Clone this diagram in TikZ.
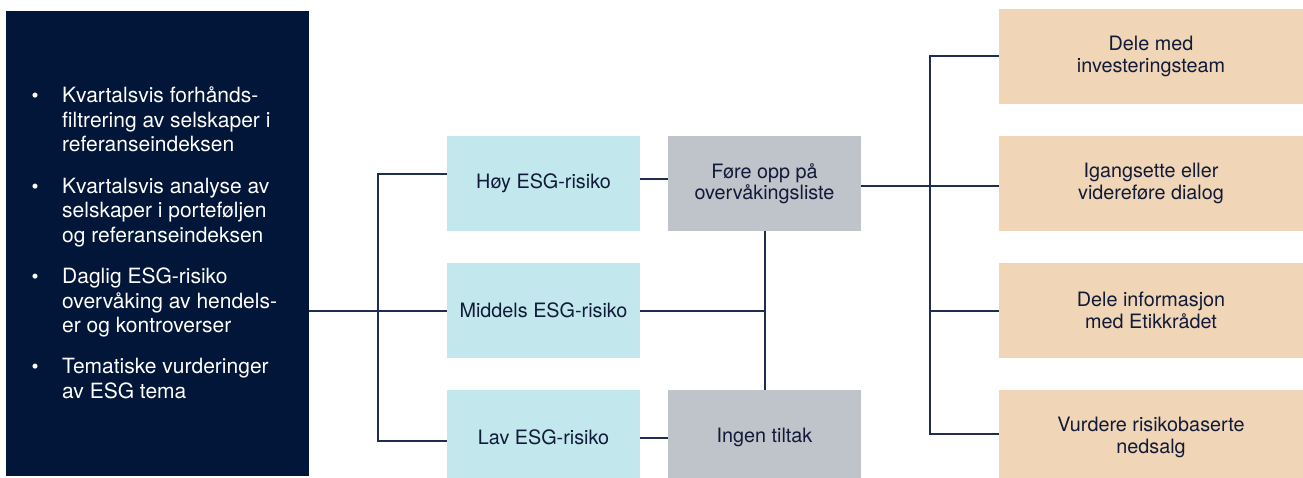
\documentclass[tikz,border=0pt]{standalone}
\usepackage{fontspec}
\setmainfont{TeX Gyre Heros}
\usetikzlibrary{calc}
\definecolor{navy}{HTML}{011638}
\definecolor{riskc}{HTML}{C2E8EE}
\definecolor{greyc}{HTML}{BFC3CA}
\definecolor{sandc}{HTML}{F0D6B6}
\definecolor{linec}{HTML}{1E2D50}
\definecolor{ink}{HTML}{111A38}
\begin{document}
\begin{tikzpicture}[x=1pt,y=-1pt,
  box/.style={rectangle, inner sep=0pt, minimum width=193pt, minimum height=95pt,
    align=center, text=ink, font=\fontsize{19.8}{21.5}\selectfont},
  riskbox/.style={box, fill=riskc},
  actbox/.style={box, fill=greyc},
  outbox/.style={box, fill=sandc, minimum width=304pt},
  conn/.style={draw=linec, line width=2pt}]
\useasboundingbox (0,0) rectangle (1303,478);
\clip (0,0) rectangle (1303,478);
% left panel
\node[fill=navy, minimum width=303pt, minimum height=465pt, inner sep=0pt] (panel) at (157.5,243.5) {};
\node[anchor=base west, inner sep=0pt, text=white] (list) at (62,103) {\begin{minipage}[t]{260pt}\fontsize{21}{24.5}\selectfont\raggedright
\noindent\llap{\makebox[54pt][c]{\fontsize{20}{20}\selectfont •}}Kvartalsvis forhånds-\\filtrering av selskaper i\\referanseindeksen\par\vspace{16.8pt}
\noindent\llap{\makebox[54pt][c]{\fontsize{20}{20}\selectfont •}}Kvartalsvis analyse av\\selskaper i porteføljen\\og referanseindeksen\par\vspace{16.8pt}
\noindent\llap{\makebox[54pt][c]{\fontsize{20}{20}\selectfont •}}Daglig ESG-risiko\\overvåking av hendels-\\er og kontroverser\par\vspace{16.8pt}
\noindent\llap{\makebox[54pt][c]{\fontsize{20}{20}\selectfont •}}Tematiske vurderinger\\av ESG tema\par
\end{minipage}};
% risk boxes
\node[riskbox] (hoy) at (543.5,183.5) {Høy ESG-risiko};
\node[riskbox] (midd) at (543.5,310.5) {Middels ESG-risiko};
\node[riskbox] (lav) at (543.5,437.5) {Lav ESG-risiko};
% action boxes
\node[actbox] (fore) at (764.5,183.5) {Føre opp på\\overvåkingsliste};
\node[actbox] (ingen) at (764.5,437.5) {Ingen tiltak};
% outcome boxes
\node[outbox] (o1) at (1151,56.5) {Dele med\\investeringsteam};
\node[outbox] (o2) at (1151,183.5) {Igangsette eller\\videreføre dialog};
\node[outbox] (o3) at (1151,310.5) {Dele informasjon\\med Etikkrådet};
\node[outbox] (o4) at (1151,437.5) {Vurdere risikobaserte\\nedsalg};
% junctions
\coordinate (lj) at (378,310.5);
\coordinate (rj) at (930,186);
% left tree
\draw[conn] (panel.east |- midd.west) -- (midd.west);
\draw[conn] ([yshift=9.5pt]hoy.west) -| (lj) |- ([yshift=-3.5pt]lav.west);
% middle
\draw[conn] ([yshift=4.5pt]hoy.east) -- ([yshift=4.5pt]fore.west);
\draw[conn] (lav.east) -- (ingen.west);
\draw[conn] (fore.south) -- (ingen.north);
\draw[conn] (midd.east) -- (fore.south |- midd.east);
% right tree
\draw[conn] ([yshift=-2.5pt]fore.east) -- ([yshift=-2.5pt]o2.west);
\draw[conn] (o1.west) -| (rj) |- ([yshift=3.5pt]o4.west);
\draw[conn] (rj) |- (o3.west);
\end{tikzpicture}
\end{document}
